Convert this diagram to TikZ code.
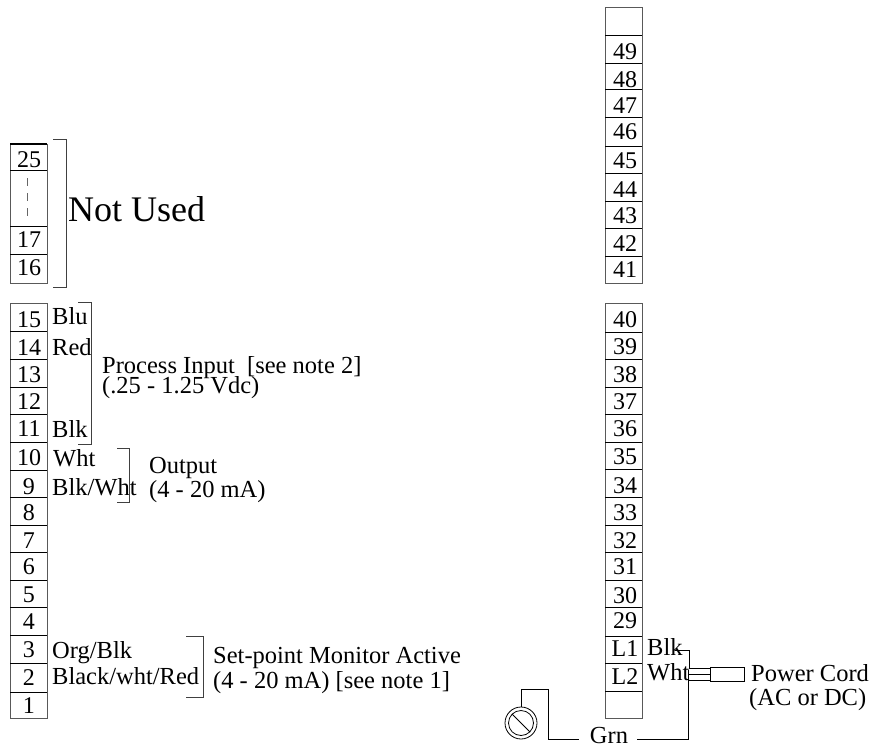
\documentclass[tikz,border=0pt]{standalone}
\usepackage{fontspec}
\setmainfont{Liberation Serif}
\usetikzlibrary{calc}

\begin{document}
\begin{tikzpicture}[x=1pt,y=-1pt,font=\fontsize{24.5}{24.5}\selectfont]
  %----- styles
  \tikzset{
    wire/.style    ={draw,line width=0.8pt},
    strip/.style   ={draw=black!65,line width=1pt},
    bracket/.style ={draw,line width=0.8pt,black!75},
    num/.style     ={inner sep=0pt,anchor=base,font=\fontsize{24}{24}\selectfont},
    lab/.style     ={inner sep=0pt,anchor=base west}
  }
  \useasboundingbox (0,0) rectangle (870,747);

  %----- left strip
  \draw[strip] (10,144) rectangle (47,283);
  \draw[strip] (10,303) rectangle (47,718);
  \draw[line width=1.4pt] (10,144) -- (47,144);
  \foreach \y in {170,226,254,331,359,387,414,442,470,497,525,552,580,607,635,663,692}
    \draw[wire] (10,\y) -- (47,\y);
  \draw[black!60,line width=0.8pt,dash pattern=on 8pt off 7pt] (27,178) -- (27,218);

  \foreach \n/\y in {25/167,17/247,16/275,15/327,14/355,13/382,12/409,11/436,10/465,9/494,8/520,7/548,6/574,5/602,4/629,3/657,2/685,1/713}
    \node[num] (n\n) at (29,\y) {\n};

  %----- left labels
  \node[font=\fontsize{36}{36}\selectfont,inner sep=0pt,anchor=base west] (notused) at (68,221) {Not Used};
  \node[lab] (blu) at (52,324) {Blu};
  \node[lab] (red) at (52,355) {Red};
  \node[lab] (blk) at (52,437) {Blk};
  \node[lab] (wht) at (53,466) {Wht};
  \node[lab] (blkwht) at (52,495) {Blk/Wht};
  \node[lab] (org) at (52,658) {Org/Blk};
  \node[lab] (black) at (52,684) {Black/wht/Red};
  \node[lab] (pi) at (102,373) {Process Input~ [see note 2]};
  \node[lab] (pir) at (102,393) {(.25 - 1.25 Vdc)};
  \node[lab] (out) at (149,473) {Output};
  \node[lab] (outr) at (149,497) {(4 - 20 mA)};
  \node[lab] (spm) at (213,663) {Set-point Monitor Active};
  \node[lab] (spmr) at (213,688) {(4 - 20 mA) [see note 1]};

  %----- brackets
  \draw[bracket] (53,139) -- (66,139) -- (66,287) -- (53,287);
  \draw[bracket] (78,302) -- (91,302) -- (91,444) -- (78,444);
  \draw[bracket] (117,448) -- (129,448) -- (129,502) -- (117,502);
  \draw[bracket] (186,636) -- (203,636) -- (203,697) -- (186,697);

  %----- right strip
  \draw[strip] (605,7) rectangle (642,283);
  \draw[strip] (605,303) rectangle (642,718);
  \foreach \y in {35,63,89,117,146,173,201,228,256,332,359,387,414,442,469,497,525,552,580,607,636,663,691}
    \draw[wire] (605,\y) -- (642,\y);
  \foreach \n/\y in {49/59,48/87,47/113,46/139,45/168,44/197,43/223,42/251,41/277,40/327,39/354,38/382,37/409,36/436,35/464,34/493,33/520,32/548,31/574,30/603,29/628,L1/656,L2/684}
    \node[num] (n\n) at (625,\y) {\n};

  %----- power cord
  \node[lab] (blkr) at (647,655) {Blk};
  \node[lab] (whtr) at (647,680) {Wht};
  \node[lab] (cord) at (751,681) {Power Cord};
  \node[lab] (cordr) at (749,705) {(AC or DC)};
  \node[inner sep=0pt,anchor=base] (grn) at (609,743) {Grn};
  \node[draw,line width=0.8pt,minimum width=34pt,minimum height=14pt,inner sep=0pt] (plug) at (727,674) {};
  \node[draw,circle,line width=0.8pt,minimum size=32pt,inner sep=0pt] (gnd) at (521,723) {};
  \node[draw,circle,line width=0.8pt,minimum size=25pt,inner sep=0pt] (gndin) at (521,723) {};
  \draw[wire] (gndin.north west) -- (gndin.south east);

  %----- connections
  \coordinate (blkend) at (675,650);
  \coordinate (grnl) at (579,739);
  \coordinate (grnr) at (637,739);
  \draw[wire] (blkend) -- (689,650) -- (689,668) -- (plug.west |- 0,668);
  \draw[wire] (688,674) -- (plug.west);
  \draw[wire] (688,680) -- (plug.west |- 0,680);
  \draw[wire] (grnr) -- (688,739) -- (688,670);
  \draw[wire] (gnd.north) -- (521,689) -- (548,689) -- (548,739) -- (grnl);
\end{tikzpicture}
\end{document}
